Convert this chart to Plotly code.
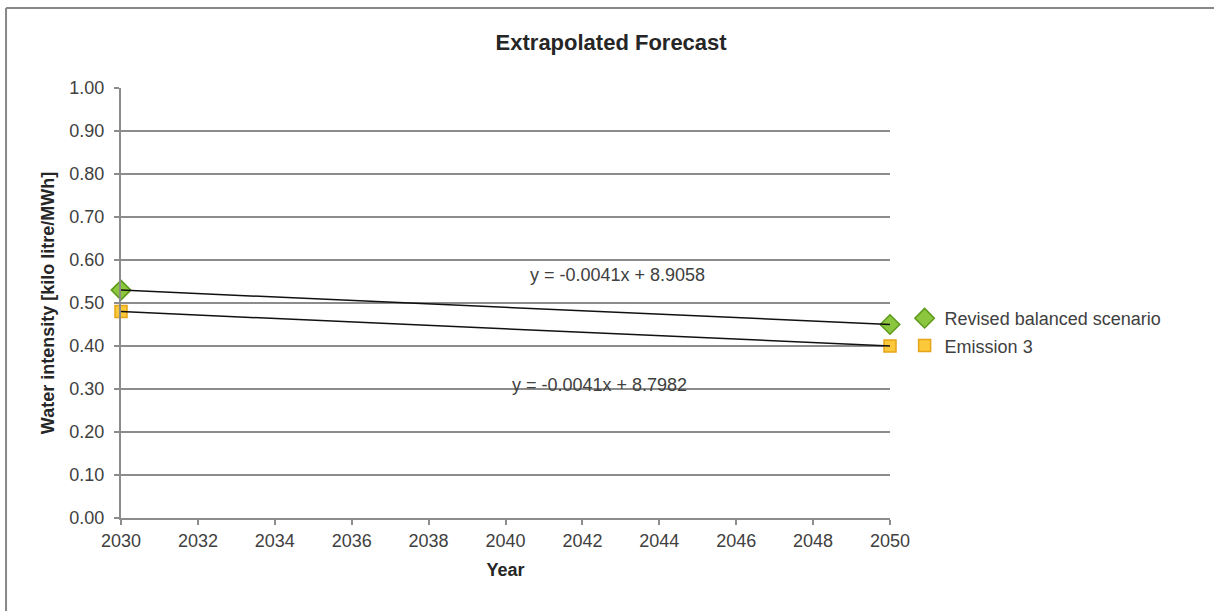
import plotly.graph_objects as go

# Forecast values (kilo litre/MWh)
years = [2030, 2050]
revised_balanced = [0.53, 0.45]
emission_3 = [0.48, 0.40]

series_names = ["Revised balanced scenario", "Emission 3"]
trend_labels = ["y = -0.0041x + 8.9058", "y = -0.0041x + 8.7982"]

x_ticks = list(range(2030, 2051, 2))
y_ticks = [round(v * 0.1, 1) for v in range(0, 11)]

FONT = "Liberation Sans, Arial, sans-serif"
TXT = "#404040"
GRID = "#8c8c8c"

fig = go.Figure()

fig.add_trace(go.Scatter(
    x=years, y=revised_balanced, mode="markers", name=series_names[0],
    legendgroup="a",
    marker=dict(symbol="diamond", size=15, color="#8cc63f",
                line=dict(color="#5c9a1b", width=1.5)),
    cliponaxis=False,
))
fig.add_trace(go.Scatter(
    x=years, y=emission_3, mode="markers", name=series_names[1],
    legendgroup="b",
    marker=dict(symbol="square", size=12, color="#fbc93a",
                line=dict(color="#e5a418", width=1.5)),
    cliponaxis=False,
))

# Linear trend lines through each series
for ys in (revised_balanced, emission_3):
    fig.add_trace(go.Scatter(
        x=years, y=ys, mode="lines", showlegend=False, hoverinfo="skip",
        line=dict(color="#111111", width=1.5), cliponaxis=False,
    ))

# Trend equations
fig.add_annotation(x=2042.9, y=0.564, text=trend_labels[0], showarrow=False,
                   font=dict(family=FONT, size=18, color=TXT))
fig.add_annotation(x=2042.45, y=0.31, text=trend_labels[1], showarrow=False,
                   font=dict(family=FONT, size=18, color=TXT))

# Outer chart frame (left and top edges visible)
fig.add_shape(type="line", xref="paper", yref="paper",
              x0=-0.1495, x1=1.6, y0=1.186, y1=1.186,
              line=dict(color="#888888", width=2))
fig.add_shape(type="line", xref="paper", yref="paper",
              x0=-0.1495, x1=-0.1495, y0=1.186, y1=-0.5,
              line=dict(color="#888888", width=2))

fig.update_layout(
    width=1214, height=611,
    margin=dict(l=121, r=324, t=88, b=93),
    paper_bgcolor="white", plot_bgcolor="white",
    font=dict(family=FONT, size=18, color=TXT),
    title=dict(text="<b>Extrapolated Forecast</b>", x=0.5034, xanchor="center",
               y=0.93, yanchor="middle",
               font=dict(family=FONT, size=22, color="#262626")),
    showlegend=True,
    legend=dict(x=1.019, xanchor="left", y=0.4326, yanchor="middle",
                font=dict(family=FONT, size=18, color=TXT),
                traceorder="grouped", tracegroupgap=1,
                bgcolor="rgba(0,0,0,0)", itemwidth=30),
    xaxis=dict(
        range=[2030, 2050], tickvals=x_ticks, ticktext=[str(v) for v in x_ticks],
        showgrid=False, zeroline=False,
        showline=True, linecolor=GRID, linewidth=2,
        ticks="outside", ticklen=5, tickcolor=GRID, tickwidth=2,
        tickfont=dict(family=FONT, size=18, color=TXT),
        title=dict(text="<b>Year</b>", standoff=14,
                   font=dict(family=FONT, size=18, color="#262626")),
    ),
    yaxis=dict(
        range=[0, 1.0], tickvals=y_ticks, ticktext=[f"{v:.2f}" for v in y_ticks],
        showgrid=True, gridcolor=GRID, gridwidth=2, zeroline=False,
        showline=True, linecolor=GRID, linewidth=2,
        ticks="outside", ticklen=5, tickcolor=GRID, tickwidth=2,
        ticklabelstandoff=6,
        tickfont=dict(family=FONT, size=18, color=TXT),
        title=dict(text="<b>Water intensity [kilo litre/MWh]</b>", standoff=10,
                   font=dict(family=FONT, size=18, color="#262626")),
    ),
)

fig.write_html("out.html")
